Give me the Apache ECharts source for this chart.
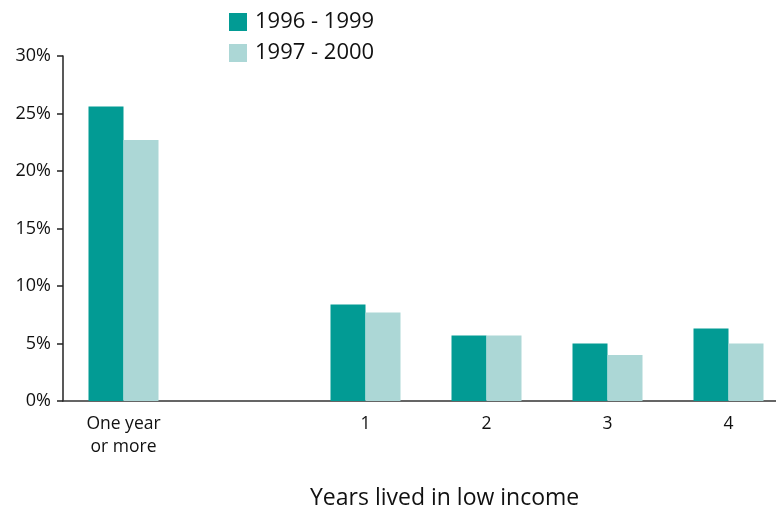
<!DOCTYPE html>
<html>
<head>
<meta charset="utf-8">
<script src="https://cdn.jsdelivr.net/npm/echarts@6/dist/echarts.min.js"></script>
<style>
  html, body { margin: 0; padding: 0; background: #fff; }
  #chart { width: 776px; height: 508px; }
</style>
</head>
<body>
<div id="chart"></div>
<script>
// Share of people living in low income, by number of years
const categories = ['One year\nor more', '', '1', '2', '3', '4'];
const seriesNames = ['1996 - 1999', '1997 - 2000'];
const values1996 = [25.6, null, 8.4, 5.7, 5.0, 6.3];
const values1997 = [22.7, null, 7.7, 5.7, 4.0, 5.0];
const yTicks = [0, 5, 10, 15, 20, 25, 30];
const axisTitle = 'Years lived in low income';

const font = '"Open Sans", "Noto Sans", sans-serif';
const chart = echarts.init(document.getElementById('chart'), null, { renderer: 'canvas' });

chart.setOption({
  animation: false,
  textStyle: { fontFamily: font, color: '#111' },
  title: {
    text: axisTitle,
    left: 305,
    top: 482,
    textStyle: { fontFamily: font, fontSize: 23, fontWeight: 'normal', color: '#111' }
  },
  legend: {
    orient: 'vertical',
    left: 229,
    top: 11,
    padding: 0,
    itemWidth: 18,
    itemHeight: 18,
    itemGap: 9,
    itemStyle: { borderWidth: 0 },
    icon: 'rect',
    textStyle: { fontFamily: font, fontSize: 22, color: '#111', padding: [0, 0, 0, 3] },
    data: seriesNames
  },
  grid: { left: 63, top: 56, width: 726, height: 345, outerBoundsMode: 'none' },
  xAxis: {
    type: 'category',
    data: categories,
    axisLine: { lineStyle: { color: '#333', width: 1.5 } },
    axisTick: { show: false },
    axisLabel: { fontFamily: font, fontSize: 17.5, color: '#111', margin: 12, lineHeight: 23, interval: 0 }
  },
  yAxis: {
    type: 'value',
    min: yTicks[0],
    max: yTicks[yTicks.length - 1],
    interval: 5,
    splitLine: { show: false },
    axisLine: { show: true, lineStyle: { color: '#222', width: 1.5 } },
    axisTick: { show: true, length: 6, lineStyle: { color: '#222', width: 1.5 } },
    axisLabel: { fontFamily: font, fontSize: 18, color: '#111', margin: 12, formatter: v => v + '%' }
  },
  series: [
    {
      name: seriesNames[0],
      type: 'bar',
      data: values1996,
      barWidth: 35,
      barGap: '0%',
      itemStyle: { color: '#029b94' }
    },
    {
      name: seriesNames[1],
      type: 'bar',
      data: values1997,
      barWidth: 35,
      barGap: '0%',
      itemStyle: { color: '#acd7d6' }
    }
  ]
});
</script>
</body>
</html>
